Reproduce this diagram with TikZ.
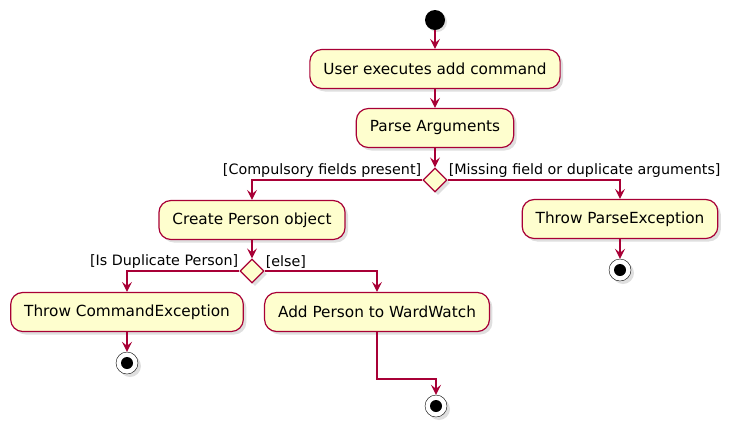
\documentclass[tikz,border=0pt]{standalone}
\usepackage{fontspec}
\setmainfont{DejaVu Sans}
\usetikzlibrary{positioning,arrows.meta,shapes.geometric,shadows}
\definecolor{umlred}{HTML}{A80036}
\definecolor{umlfill}{HTML}{FEFECE}

\tikzset{
  action/.style={draw=umlred, fill=umlfill, rounded corners=12pt, line width=1.2pt,
    minimum height=39pt, inner xsep=13.5pt, font=\fontsize{15.3}{17}\selectfont,
    drop shadow={shadow xshift=3pt, shadow yshift=-3pt, opacity=0.25}},
  choice/.style={diamond, draw=umlred, fill=umlfill, line width=1.2pt, minimum width=24pt,
    minimum height=24pt, inner sep=0pt,
    drop shadow={shadow xshift=3pt, shadow yshift=-3pt, opacity=0.25}},
  startdot/.style={circle, fill=black, minimum size=20pt, inner sep=0pt,
    drop shadow={shadow xshift=2pt, shadow yshift=-2pt, opacity=0.25}},
  enddot/.style={circle, draw=black, fill=white, minimum size=22pt, inner sep=0pt,
    path picture={\fill[black] (path picture bounding box.center) circle (6pt);},
    drop shadow={shadow xshift=3pt, shadow yshift=-3pt, opacity=0.25}},
  flow/.style={-{Stealth[length=10pt, width=10pt, inset=4pt]}, umlred, line width=1.2pt},
  guard/.style={font=\fontsize{14.3}{16}\selectfont, inner sep=1pt}
}

\begin{document}
\begin{tikzpicture}[x=1pt, y=-1pt]
    \useasboundingbox (0,0) rectangle (734,432);

    % start and main flow
    \node[startdot] (start) at (435,20) {};
    \node[action] (userexec) at (435,69) {User executes add command};
    \node[action] (parse) at (435,128) {Parse Arguments};
    \node[choice] (dec1) at (435,180) {};

    % left branch
    \node[action] (create) at (252,220) {Create Person object};
    \node[choice] (dec2) at (252,271) {};
    \node[action] (throwcmd) at (127,312) {Throw CommandException};
    \node[enddot] (endcmd) at (127,363) {};
    \node[action] (addperson) at (377,312) {Add Person to WardWatch};
    \coordinate (bend) at (377,379);
    \node[enddot] (endadd) at (436,406) {};

    % right branch
    \node[action] (throwparse) at (620,219) {Throw ParseException};
    \node[enddot] (endparse) at (620,270) {};

    % guards
    \node[guard, anchor=south east] (gpresent) at ([yshift=1pt]dec1.west) {[Compulsory fields present]};
    \node[guard, anchor=south west] (gmissing) at ([yshift=1pt]dec1.east) {[Missing field or duplicate arguments]};
    \node[guard, anchor=south east] (gdup) at ([yshift=1pt]dec2.west) {[Is Duplicate Person]};
    \node[guard, anchor=south west] (gelse) at ([yshift=1pt]dec2.east) {[else]};

    % connectors
    \draw[flow] (start) -- (userexec);
    \draw[flow] (userexec) -- (parse);
    \draw[flow] (parse) -- (dec1);
    \draw[flow] (dec1.west) -| (create);
    \draw[flow] (dec1.east) -| (throwparse);
    \draw[flow] (throwparse) -- (endparse);
    \draw[flow] (create) -- (dec2);
    \draw[flow] (dec2.west) -| (throwcmd);
    \draw[flow] (dec2.east) -| (addperson);
    \draw[flow] (throwcmd) -- (endcmd);
    \draw[flow] (addperson) -- (bend) -| (endadd);

\end{tikzpicture}
\end{document}
